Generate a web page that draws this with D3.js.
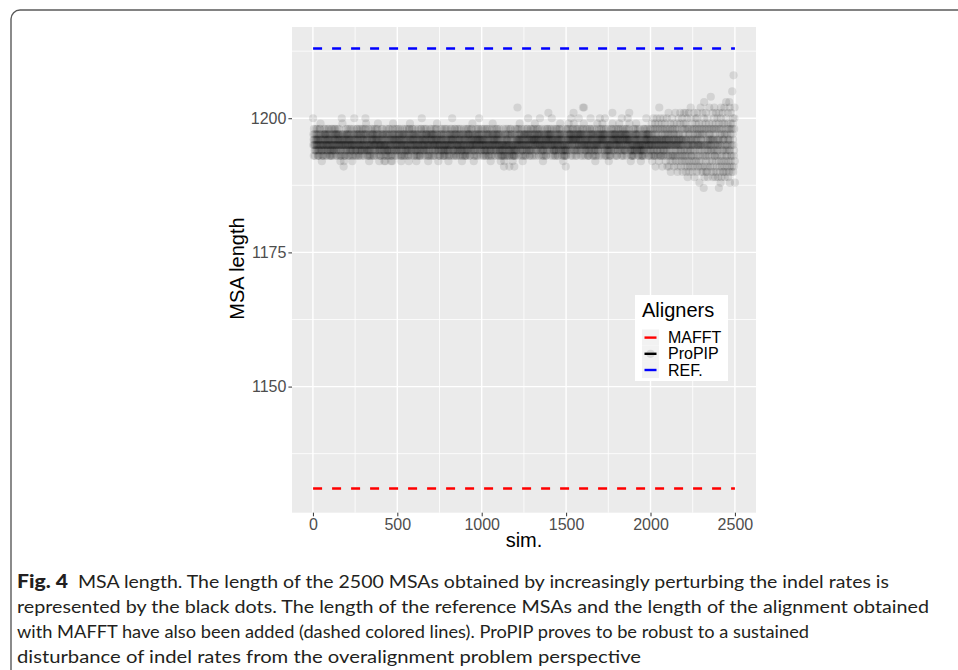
<!DOCTYPE html>
<html><head><meta charset="utf-8">
<script src="https://cdn.jsdelivr.net/npm/d3@7"></script>
<style>body{margin:0;background:#fff}svg{display:block}</style>
</head><body>
<svg id="chart" width="958" height="670"></svg>
<script>
// ProPIP MSA length per simulation (1..2500). Letter code: a=1186, b=1187, ... h=1193, ... o=1200, ... w=1208
const propipCodeBase = 1186;
const propipCodes = [
"ojlkhmjkli jhkijlmikj klijmkjlhk ihjkilhjmi kmljnkjlik jighkjilhj kjhlimjkil lkmjlikhlj jhkijlmikj klijmkjlhk",
"ihjkilhjmi kjhlimjkil jhkijlmikj lkmjlikhlj ijlkhmjkli klijmkjlhk jighkjilhj okjlnkjlik jfhgkjilhj kjhlimjkil",
"klijmkjlhk ijlkhmjkli jhkijlmikj jighkjilhj kmljokjlik ihjkilhjmi lkmjlikhlj kjhlimjkil jhkijlmikj ijlkhmjkli",
"kjhlimjkil omljnkjlik ihjkilhjmi jighkjilhj klijmkjlhk lkmjlikhlj jhkijlmikj ijlkhmjkli kmljnkjlik jighkjilhj",
"jhkijlmikj lkmjlikhlj jighkjilgj kjhlimjkil ihjkilhjmi klijmkjlhk jighkjilhg kmljnkjlik ijlkhmjkli jhkijlmikj",
"ijlkhmjkli klijmkjlhk jighkjilhj lkmjlikhlj kjhlimjkil jhkijlmikj ihjkilhgmi kmljnkjlik jhkijlmikj lkmjlikhlj",
"kjhlimjkil jighkjilhj klijmkjlhk ihjkilhjmi kmljokjlik jhkijlmikj ijlkhmjkli lkmjlikhlj jighkjilhj klijmkjlhk",
"lkmjlikhlj ijlkhmjkli jhkijlmikj kmljnkjlik jighkjilhj kjhlimjkil klijmkjlhk ihjkilhjmi jhkijlmikj kjhlimjkil",
"jighkjilhj klijmkjlhk kmljokjlik ihjkilhjmi lkmjlikhlj jhkijlmikj ijlkhmjkli kjhlimjkil jighkjilhj klijmkjlhk",
"ihjkilhjmi kjhlimjkil lkmjlikhlj jhkijlmikj kmljnkjlik jighkjilhj klijmkjlhk ijlkhmjkli kmljokjlik jhkijlmikj",
"klijmkjlhk jhkijlmikj ihjkilhjmi lkmjlikhlj kjhlimjkil jighkjilhj kmljnkjlik ijlkhmjkli jhkijlmikj lkmjlikhlj",
"kjhlimjkil jighkjilhj ihjkilhjmi jfhgkjilhj klijmkjlhk jhkijlmikj ihjfilhjmi lkmjlikhlj jighkjilhj ihfkilhjmi",
"jhkijlmikj kqijmkjlhk kmljnkjlik ijlkhmjkli jighkjilhj lkmjlikhlj kjhlimjkil kmljokjlik ihjkilhjmi klijmkjlhk",
"klijmkjlhk kmljnkjlik jhkijlmikj lkmjlikhlj kmljokjlik ijlkhmjkli jighkjilhj klijmkjlhk kjhlimjkil kmljpkjlik",
"lkmjlikhlj kmljokjlik jhkijlmikj ihjkilhjmi klijmkjlhk kjhlimjkil kmljnkjlik ijlkhmjkli jighkjilhj ihjkilhfmi",
"jhkijlmikj kmljnkjlik lkmjlikhlo klijmkjlhk kmlpnkjlik ijlkhmjkli kjhlimjkil kmljokjlik lkmjlikhlj klijmkjlhq",
"kmljnqjlik jhkijlmikj klijmkjlhk ihjkilhjmi kmljokjlik lkmjlikhlj kjhlimjkil jighkjilhj kmljnkjlik ijlkhmjklo",
"klijmkjlhk kmljnkjlik lkmjlikhlo ijlkhmjkli jhkijlmikj jighkjilhj kjhlimjkil kmlpnkjlik lkmjlikhlj klijmkjlhk",
"jhkijlmikj kmljnkjlik lkmjlikhlo ijlkhmjkli kjhlimjkil klijmkjlhk kmljokjlik kmlpnkjlik jighkjilhj ihjkilhjmi",
"kjhlimjkil kmljnkjlik ijlkhmjkli jhkijlmikj jighkjilhj ihjkilhjmi klijmkjlhk kmljokjlik lkmjlikhlj jhkijlmikj",
"kjhilmnjkg jlkhimojkh ijkhlmnjkf hkjlimojki kijhlmnjkg jqkhimojkh ijkhlmnjkf kljhimojki hijkmlnjkg jkhlimojkf",
"ijkhlmpjkf kjlhimnjge jlkhimojkh gjkmlhnjkf kljhimpjkg ijkhlmnjfe jkhilmojkg lkjihpnjkf ijkghmojke kjlhimnpkg",
"jifhlmnpke hkjgimojfd ijkhmlpjge kljfimoqkh ijkhgmnjfe jlkihmpjgd kijflmnokg hjkemlopjf jlkhimnjgc ijfhlmqjke",
"kjgilmnpfe jlkhbmorjd ijfhlmnpge hkjeimojfd kijhlmnqkg jlkfimsjke ijkhgmnpfd kljeimoqkh hijdmlnpge jkfhimojkd",
"ijkgbmnpfe kjlhcmoqgd jlfhimnpke ijkeglnqfd kljhimorge ijfhlmnpkd jkgeimrqfc kijhlmnpge hjftmlnoke jwfhimoqgc"
];
const mafftLength = 1131;
const refLength = 1213;
const xTickValues = [0, 500, 1000, 1500, 2000, 2500];
const yTickValues = [1150, 1175, 1200];
const xMinorValues = [250, 750, 1250, 1750, 2250];
const yMinorValues = [1137.5, 1162.5, 1187.5, 1212.5];
const legendLabels = ["MAFFT", "ProPIP", "REF."];
const legendColors = ["#FF0000", "#000000", "#0000FF"];
const captionBold = "Fig. 4";
const captionLines = [
  "MSA length. The length of the 2500 MSAs obtained by increasingly perturbing the indel rates is",
  "represented by the black dots. The length of the reference MSAs and the length of the alignment obtained",
  "with MAFFT have also been added (dashed colored lines). ProPIP proves to be robust to a sustained",
  "disturbance of indel rates from the overalignment problem perspective"
];

const points = [];
propipCodes.join("").replace(/\s+/g, "").split("").forEach((c, i) => {
  points.push({ sim: i + 1, len: propipCodeBase + (c.charCodeAt(0) - 97) });
});

const svg = d3.select("#chart");
const font = "'Liberation Sans', Arial, Helvetica, sans-serif";
const panel = { left: 292, right: 756, top: 27, bottom: 512.7 };

svg.append("defs").append("filter").attr("id", "soft")
  .append("feGaussianBlur").attr("stdDeviation", 0.4);

// outer frame
svg.append("rect").attr("x", 11).attr("y", 10).attr("width", 1000).attr("height", 700)
  .attr("rx", 9).attr("fill", "none").attr("stroke", "#5a5a5a").attr("stroke-width", 1.4);

const x = d3.scaleLinear().domain([-123.95, 2624.95]).range([panel.left, panel.right]);
const y = d3.scaleLinear().domain([1126.5, 1217.0]).range([panel.bottom, panel.top]);

svg.append("rect").attr("x", panel.left).attr("y", panel.top)
  .attr("width", panel.right - panel.left).attr("height", panel.bottom - panel.top).attr("fill", "#EBEBEB");

const grid = svg.append("g");
grid.selectAll(".vmin").data(xMinorValues).join("line")
  .attr("x1", d => x(d)).attr("x2", d => x(d)).attr("y1", panel.top).attr("y2", panel.bottom)
  .attr("stroke", "#fff").attr("stroke-width", 0.8);
grid.selectAll(".hmin").data(yMinorValues).join("line")
  .attr("y1", d => y(d)).attr("y2", d => y(d)).attr("x1", panel.left).attr("x2", panel.right)
  .attr("stroke", "#fff").attr("stroke-width", 0.8);
grid.selectAll(".vmaj").data(xTickValues).join("line")
  .attr("x1", d => x(d)).attr("x2", d => x(d)).attr("y1", panel.top).attr("y2", panel.bottom)
  .attr("stroke", "#fff").attr("stroke-width", 1.4);
grid.selectAll(".hmaj").data(yTickValues).join("line")
  .attr("y1", d => y(d)).attr("y2", d => y(d)).attr("x1", panel.left).attr("x2", panel.right)
  .attr("stroke", "#fff").attr("stroke-width", 1.4);

// points
svg.append("g").attr("filter", "url(#soft)").selectAll("circle").data(points).join("circle")
  .attr("cx", d => x(d.sim)).attr("cy", d => y(d.len)).attr("r", 4.1)
  .attr("fill", "#000").attr("fill-opacity", 0.1);

// reference lines
const hlines = [{ v: mafftLength, c: legendColors[0] }, { v: refLength, c: legendColors[2] }];
svg.append("g").selectAll("line").data(hlines).join("line")
  .attr("x1", x(1)).attr("x2", x(2500)).attr("y1", d => y(d.v)).attr("y2", d => y(d.v))
  .attr("stroke", d => d.c).attr("stroke-width", 2.4).attr("stroke-dasharray", "9,10");

// axes
const yAxis = svg.append("g").attr("transform", `translate(${panel.left},0)`)
  .call(d3.axisLeft(y).tickValues(yTickValues).tickSize(3.6).tickPadding(2).tickFormat(d3.format("d")));
const xAxis = svg.append("g").attr("transform", `translate(0,${panel.bottom})`)
  .call(d3.axisBottom(x).tickValues(xTickValues).tickSize(3.6).tickPadding(2).tickFormat(d3.format("d")));
[yAxis, xAxis].forEach(a => {
  a.select(".domain").remove();
  a.selectAll(".tick line").attr("stroke", "#333").attr("stroke-width", 1);
  a.selectAll(".tick text").attr("fill", "#4D4D4D").style("font-family", font).style("font-size", "16px");
});

svg.append("text").attr("x", (panel.left + panel.right) / 2).attr("y", 547)
  .attr("text-anchor", "middle").style("font-family", font).style("font-size", "20px").attr("fill", "#000").text("sim.");
svg.append("text").attr("transform", "translate(243.5,268.5) rotate(-90)")
  .attr("text-anchor", "middle").style("font-family", font).style("font-size", "20px").attr("fill", "#000").text("MSA length");

// legend
const lg = svg.append("g");
lg.append("rect").attr("x", 635).attr("y", 295).attr("width", 93).attr("height", 86).attr("fill", "#fff");
lg.append("text").attr("x", 642).attr("y", 317).style("font-family", font).style("font-size", "20px").text("Aligners");
const keyY = i => 329.5 + i * 16.2;
const items = lg.selectAll(".item").data(legendLabels).join("g");
items.append("rect").attr("x", 642).attr("y", (d, i) => keyY(i)).attr("width", 17).attr("height", 16.2).attr("fill", "#F2F2F2");
items.filter((d, i) => i === 1).append("circle").attr("cx", 650.5).attr("cy", keyY(1) + 8.1).attr("r", 4.1)
  .attr("fill", "#000").attr("fill-opacity", 0.1);
items.append("line").attr("x1", 644.5).attr("x2", 656.5).attr("y1", (d, i) => keyY(i) + 8.1).attr("y2", (d, i) => keyY(i) + 8.1)
  .attr("stroke", (d, i) => legendColors[i]).attr("stroke-width", 2.4);
items.append("text").attr("x", 668).attr("y", (d, i) => keyY(i) + 13.6)
  .style("font-family", font).style("font-size", "16px").attr("fill", "#000").text(d => d);

// caption
const capFont = "Lato, 'Open Sans', sans-serif";
svg.append("text").attr("x", 17).attr("y", 588).style("font-family", capFont).style("font-size", "18.5px")
  .style("font-weight", "900").attr("fill", "#231F20").attr("textLength", 51).attr("lengthAdjust", "spacingAndGlyphs")
  .text(captionBold);
const capX = [78, 17, 17, 17];
const capW = [811, 912, 792, 624];
svg.append("g").selectAll("text").data(captionLines).join("text")
  .attr("x", (d, i) => capX[i]).attr("y", (d, i) => 588 + i * 25)
  .attr("textLength", (d, i) => capW[i]).attr("lengthAdjust", "spacingAndGlyphs")
  .style("font-family", capFont).style("font-size", "17.5px").attr("fill", "#231F20").text(d => d);
</script>
</body></html>
